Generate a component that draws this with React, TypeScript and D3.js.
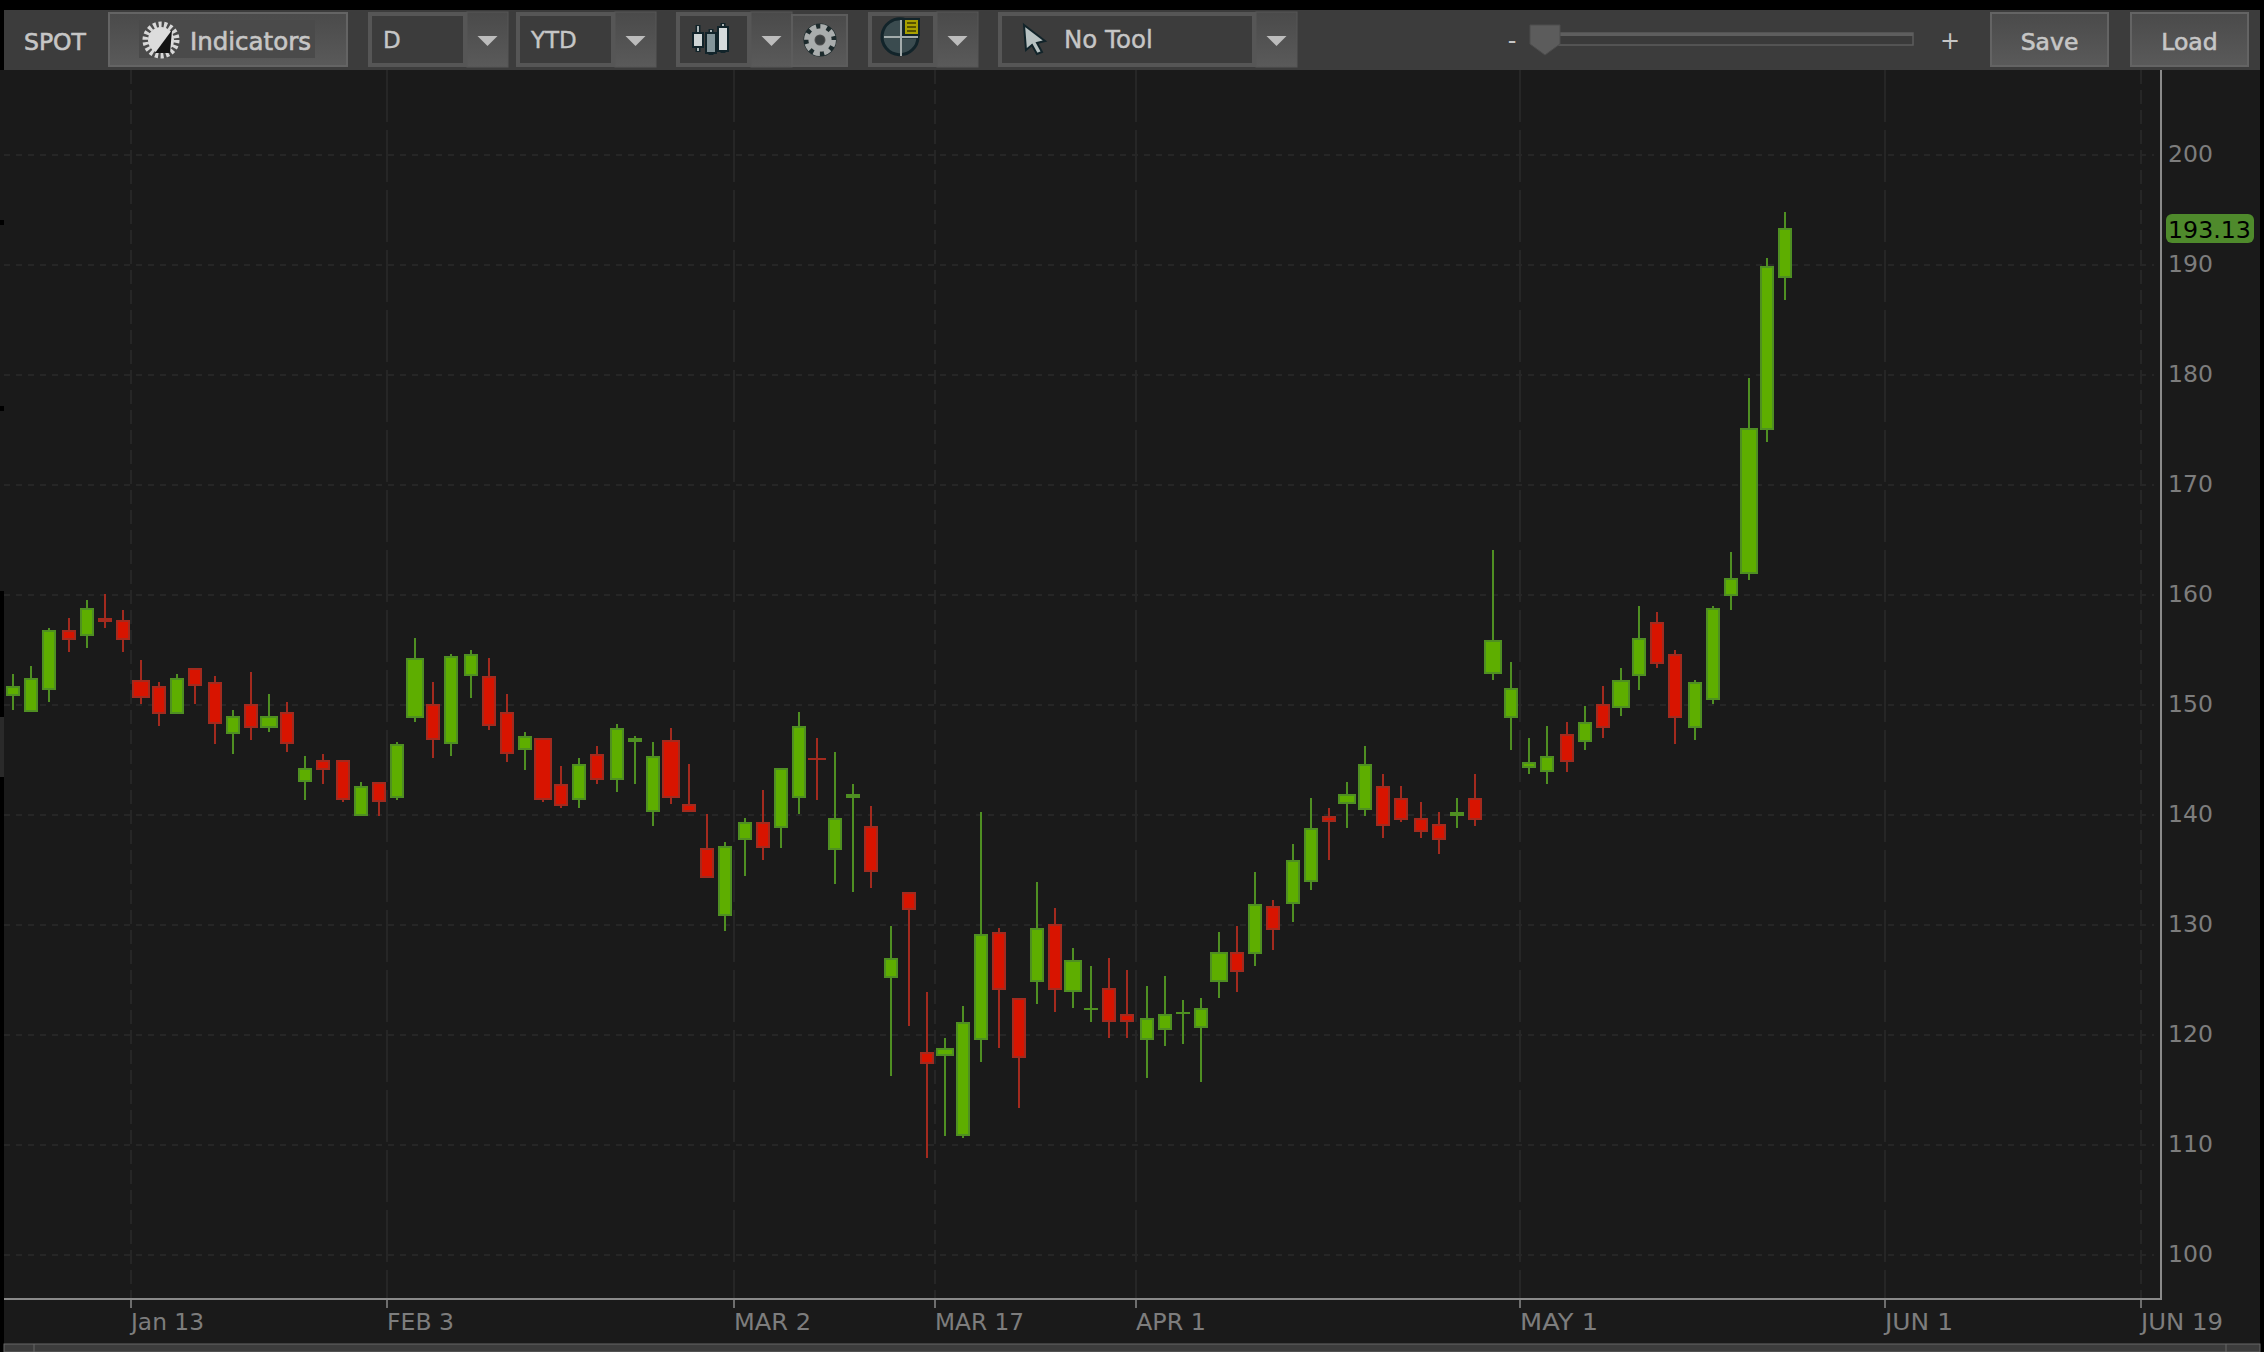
import React from "react"
import * as d3 from "d3"

// ---------- Data (SPOT daily, YTD) ----------
const highs = [
  152.82, 153.54, 157.0, 157.91, 159.54, 160.09, 158.64, 154.09, 152.09, 152.82,
  153.36, 152.63, 149.54, 153.0, 151.0, 150.27, 145.36, 145.54, 145.0, 143.0,
  143.0, 146.63, 156.09, 152.09, 154.63, 155.0, 154.27, 151.0, 147.55, 147.0,
  144.46, 145.18, 146.28, 148.27, 147.18, 146.64, 147.91, 144.64, 140.09, 137.55,
  139.73, 142.28, 144.28, 149.37, 147.0, 145.73, 142.82, 140.82, 129.91, 133.0,
  123.91, 119.73, 122.64, 140.27, 129.73, 123.36, 133.91, 131.54, 127.91, 126.27,
  127.0, 125.91, 124.45, 125.36, 123.18, 123.36, 129.36, 129.91, 134.82, 132.27,
  137.37, 141.55, 140.64, 143.0, 146.28, 143.73, 142.64, 141.19, 140.28, 141.55,
  143.73, 164.09, 153.91, 147.0, 148.09, 148.46, 149.91, 151.73, 153.37, 159.0,
  158.46, 155.0, 152.27, 159.0, 163.91, 179.73, 190.64, 194.82,
]
const lows = [
  149.55, 149.36, 150.27, 154.82, 155.18, 157.0, 154.82, 150.09, 148.09, 149.18,
  150.09, 146.45, 145.54, 146.82, 147.54, 145.73, 141.36, 142.82, 141.18, 139.91,
  139.91, 141.36, 148.45, 145.18, 145.36, 150.63, 147.73, 144.82, 144.09, 141.18,
  140.64, 140.64, 142.82, 142.09, 142.82, 139.0, 141.0, 140.27, 134.28, 129.45,
  134.46, 135.91, 137.0, 140.09, 141.36, 133.73, 133.0, 133.37, 116.27, 120.82,
  108.82, 110.82, 110.64, 117.55, 118.82, 113.36, 122.82, 122.09, 122.45, 121.18,
  119.73, 119.73, 116.09, 119.0, 119.18, 115.73, 123.36, 123.91, 126.27, 127.73,
  130.28, 133.19, 135.91, 138.82, 139.91, 137.91, 139.37, 137.91, 136.46, 138.82,
  139.0, 152.27, 145.91, 143.73, 142.82, 143.91, 145.91, 147.0, 149.0, 151.37,
  153.37, 146.46, 146.82, 150.09, 158.64, 161.37, 173.91, 186.82,
]
const opens = [
  150.82, 149.36, 151.36, 156.82, 156.27, 157.91, 157.73, 152.27, 151.72, 149.18,
  153.36, 152.09, 147.36, 150.09, 147.91, 149.36, 143.0, 145.0, 145.0, 139.91,
  143.0, 141.54, 148.82, 150.09, 146.45, 152.63, 152.63, 149.36, 145.91, 147.0,
  142.82, 141.36, 145.55, 143.18, 146.64, 140.27, 146.82, 141.0, 137.0, 130.82,
  137.73, 139.37, 138.82, 141.55, 145.18, 136.82, 141.55, 139.0, 125.18, 133.0,
  118.45, 118.09, 110.82, 119.55, 129.36, 123.36, 124.82, 130.09, 123.91, 122.27,
  124.27, 121.91, 119.55, 120.45, 121.91, 120.64, 124.82, 127.54, 127.36, 131.73,
  131.91, 133.91, 139.91, 141.0, 140.46, 142.64, 141.55, 139.73, 139.19, 139.91,
  141.55, 152.82, 148.82, 144.27, 143.91, 147.37, 146.64, 150.09, 149.73, 152.64,
  157.55, 154.64, 147.91, 150.46, 159.91, 161.91, 175.0, 188.82,
]
const closes = [
  151.72, 152.45, 156.82, 155.91, 158.82, 157.54, 155.91, 150.64, 149.18, 152.45,
  151.72, 148.27, 149.0, 147.91, 149.0, 146.45, 144.27, 144.09, 141.36, 142.63,
  141.18, 146.45, 154.27, 146.82, 154.45, 154.63, 148.09, 145.55, 147.18, 141.36,
  140.82, 144.64, 143.18, 147.91, 147.0, 145.37, 141.55, 140.27, 134.28, 137.18,
  139.37, 137.0, 144.28, 148.09, 145.0, 139.73, 141.91, 134.82, 127.0, 131.36,
  117.36, 118.82, 121.18, 129.18, 124.09, 117.91, 129.73, 124.09, 126.82, 122.45,
  121.18, 121.18, 121.54, 121.91, 122.09, 122.45, 127.54, 125.73, 131.91, 129.54,
  135.91, 138.82, 139.37, 141.91, 144.64, 139.0, 139.55, 138.46, 137.73, 140.28,
  139.55, 155.91, 151.55, 144.82, 145.37, 144.82, 148.46, 147.91, 152.27, 156.09,
  153.73, 148.82, 152.09, 158.82, 161.55, 175.18, 189.91, 193.37,
]

const priceTicks = [100, 110, 120, 130, 140, 150, 160, 170, 180, 190, 200]
const lastPrice = "193.13"

const dateLabels = ["Jan 13", "FEB 3", "MAR 2", "MAR 17", "APR 1", "MAY 1", "JUN 1", "JUN 19"]
const dateSessions = [7, 21, 40, 51, 62, 83, 103, 117] // trading day index of each label
const dateMonthStart = [false, true, true, false, true, true, true, false]
const sessionCount = 118

// ---------- Colours / layout ----------
const BG = "#1a1a1a"
const BAR = "#3c3c3c"
const UP_FILL = "#5eae00"
const UP_EDGE = "#4f8f22"
const DOWN_FILL = "#d81400"
const DOWN_EDGE = "#a32a1e"
const GRID = "#262626"
const AXIS = "#8a8a8a"
const LABEL = "#7d7d7d"
const TEXT = "#c6c6c6"
const FONT = "'DejaVu Sans', sans-serif"
// the platform font is wider on capitals, so the date labels get stretched to fit
const DATE_LABEL_WIDTHS = [73, 67, 77, 89, 70, 78, 68, 82]

// ---------- Toolbar bits ----------
const DropDown = ({ x, w, arrow, label, y = 12 }: { x: number; w: number; arrow: number; label?: string; y?: number }) => (
  <g>
    <rect x={x + 2} y={y + 2} width={w - 4} height={51} fill={BAR} stroke="#565656" strokeWidth={4} />
    <rect x={x + w} y={y} width={arrow} height={55} fill="url(#btn)" stroke="#575757" strokeWidth={1} />
    <path d={`M${x + w + arrow / 2 - 10},${y + 24} h20 l-10,10 z`} fill="#bcbcbc" />
    {label && (
      <text x={x + 15} y={48} fontSize={23} fill={TEXT} stroke={TEXT} strokeWidth={0.4} fontFamily={FONT}>
        {label}
      </text>
    )}
  </g>
)

const Button = ({ x, w, label }: { x: number; w: number; label: string }) => (
  <g>
    <rect x={x + 1} y={13} width={w - 2} height={53} fill="url(#btn)" stroke="#646464" strokeWidth={2} />
    <text x={x + w / 2} y={50} textAnchor="middle" fontSize={23.5} fill={TEXT} stroke={TEXT} strokeWidth={0.6} fontFamily={FONT}>
      {label}
    </text>
  </g>
)

const Gear = ({ cx, cy }: { cx: number; cy: number }) => (
  <g>
    <circle cx={cx} cy={cy} r={14} fill="none" stroke="#1c2a2c" strokeWidth={5} />
    <circle cx={cx} cy={cy} r={13} fill="none" stroke="#a9adad" strokeWidth={6} strokeDasharray="6.2 4" />
    <circle cx={cx} cy={cy} r={8.5} fill="none" stroke="#a9adad" strokeWidth={6} />
    <circle cx={cx} cy={cy} r={4.5} fill="#3a3f40" />
  </g>
)

const Toolbar = () => (
  <g>
    <rect x={4} y={10} width={2256} height={60} fill={BAR} />
    <text x={24} y={50} fontSize={23.5} fill={TEXT} stroke={TEXT} strokeWidth={0.6} fontFamily={FONT}>
      SPOT
    </text>

    <rect x={109} y={13} width={238} height={53} fill="url(#btn)" stroke="#646464" strokeWidth={2} />
    <rect x={139} y={20} width={176} height={38} fill="#4a4a4a" />
    <circle cx={161} cy={40} r={15.5} fill="none" stroke="#d8d8d8" strokeWidth={6} strokeDasharray="3 2.4" />
    <circle cx={161} cy={40} r={13} fill="#dcdcdc" />
    <path d="M155,53 L172,30 L170,53 Z" fill="#141414" />
    <text x={190} y={50} fontSize={24.5} fill={TEXT} stroke={TEXT} strokeWidth={0.6} fontFamily={FONT}>
      Indicators
    </text>

    <DropDown x={368} w={99} arrow={41} label="D" />
    <DropDown x={516} w={99} arrow={41} label="YTD" />

    {/* chart style */}
    <DropDown x={676} w={75} arrow={41} />
    <g stroke="#12242a" strokeWidth={2}>
      <path d="M698,25 V52 M711,29 V55 M723,23 V53" stroke="#12242a" strokeWidth={5} />
      <path d="M698,26 V51 M711,30 V54 M723,24 V52" stroke="#aab3b4" strokeWidth={2} />
      <rect x={693} y={33} width={10} height={14} fill="#cfd5d6" />
      <rect x={706} y={33} width={10} height={20} fill="#84959a" />
      <rect x={718} y={27} width={10} height={24} fill="#d6dbdc" />
    </g>
    <rect x={792} y={15} width={55} height={51} fill="url(#btn)" stroke="#5c5c5c" strokeWidth={2} />
    <Gear cx={820} cy={40} />

    {/* drawing set */}
    <DropDown x={868} w={69} arrow={41} />
    <path d="M903,19 A18,18 0 1,0 918,37 L903,37 Z" fill="#3a4b4f" stroke="#12242a" strokeWidth={3} />
    <path d="M884,37 H918 M901,20 V56" stroke="#a3acac" strokeWidth={2} fill="none" />
    <rect x={904} y={19} width={15} height={16} fill="#a8a000" stroke="#12242a" strokeWidth={2} />
    <path d="M907,23 h9 M907,27 h9 M907,31 h9" stroke="#3c3a00" strokeWidth={1.5} />

    {/* tool picker */}
    <DropDown x={998} w={258} arrow={41} />
    <path d="M1024,25 L1045,41 L1037,43 L1042,52 L1037,54 L1032,45 L1026,50 Z" fill="#b8c2c2" stroke="#12242a" strokeWidth={2} />
    <text x={1064} y={48} fontSize={24.5} fill={TEXT} stroke={TEXT} strokeWidth={0.4} fontFamily={FONT}>
      No Tool
    </text>

    {/* zoom slider */}
    <text x={1512} y={49} textAnchor="middle" fontSize={24} fill={TEXT} fontFamily={FONT}>
      -
    </text>
    <rect x={1556} y={33} width={357} height={12} fill="#3a3a3a" stroke="#5c5c5c" strokeWidth={1.5} />
    <rect x={1556} y={33} width={357} height={3} fill="#5e5e5e" />
    <path d="M1530,25 H1560 V44 L1545,55 L1530,44 Z" fill="#5c5c5c" stroke="#4c4c4c" strokeWidth={1} />
    <text x={1950} y={49} textAnchor="middle" fontSize={24} fill={TEXT} fontFamily={FONT}>
      +
    </text>

    <Button x={1990} w={119} label="Save" />
    <Button x={2130} w={119} label="Load" />
  </g>
)

// ---------- Chart ----------
export default function App() {
  const x = d3
    .scaleBand<number>()
    .domain(d3.range(sessionCount))
    .range([3.2, 3.2 + sessionCount * 18.27])
  const y = d3.scaleLinear().domain([100, 200]).range([1255, 155])

  // bodies and wicks sit on the odd pixel columns like the platform does it
  const center = (i: number) => 2 * Math.round(((x(i) ?? 0) + 10.1 - 1) / 2) + 1
  const py = (v: number) => Math.round(y(v))
  // pixel snapping makes every 7th or 8th body a bit wider
  const halfWidth = (i: number) => (Math.floor((i + 1) / 7.365) > Math.floor(i / 7.365) ? 9 : 7)

  return (
    <svg
      width={2264}
      height={1352}
      viewBox="0 0 2264 1352"
      style={{ position: "absolute", top: 0, left: 0, display: "block" }}
    >
      <defs>
        <linearGradient id="btn" x1="0" y1="0" x2="0" y2="1">
          <stop offset="0" stopColor="#4a4a4a" />
          <stop offset="1" stopColor="#5a5a5a" />
        </linearGradient>
      </defs>

      <rect width={2264} height={1352} fill="#000" />
      <rect x={4} y={10} width={2256} height={1342} fill={BG} />

      {/* left edge markers */}
      <rect x={0} y={70} width={4} height={521} fill={BG} />
      <rect x={0} y={220} width={4} height={5} fill="#000" />
      <rect x={0} y={406} width={4} height={5} fill="#000" />
      <rect x={0} y={717} width={4} height={60} fill="#2a2a2a" />

      {/* price grid */}
      {priceTicks.map((t) => (
        <line
          key={t}
          x1={4}
          x2={2154}
          y1={y(t)}
          y2={y(t)}
          stroke={GRID}
          strokeWidth={2}
          strokeDasharray="6 6"
        />
      ))}

      {/* date grid */}
      {dateSessions.map((s, i) => (
        <line
          key={s}
          x1={Math.round(x(s) ?? 0)}
          x2={Math.round(x(s) ?? 0)}
          y1={70}
          y2={1298}
          stroke={GRID}
          strokeWidth={2}
          strokeDasharray={dateMonthStart[i] ? "52 8" : "14 6"}
        />
      ))}

      {/* candles */}
      <g shapeRendering="crispEdges">
        {highs.map((h, i) => {
          const up = closes[i] >= opens[i]
          const edge = up ? UP_EDGE : DOWN_EDGE
          const fill = up ? UP_FILL : DOWN_FILL
          const c = center(i)
          const hw = halfWidth(i)
          const top = py(Math.max(opens[i], closes[i]))
          const bottom = py(Math.min(opens[i], closes[i]))
          const thin = bottom - top <= 4
          return (
            <g key={i}>
              <line x1={c} x2={c} y1={py(h)} y2={py(lows[i])} stroke={edge} strokeWidth={2} />
              {thin ? (
                <rect x={c - hw} y={top} width={hw * 2} height={Math.max(bottom - top, 2)} fill={edge} />
              ) : (
                <rect
                  x={c - hw + 1}
                  y={top + 1}
                  width={hw * 2 - 2}
                  height={bottom - top - 2}
                  fill={fill}
                  stroke={edge}
                  strokeWidth={2}
                />
              )}
            </g>
          )
        })}
      </g>

      {/* axes */}
      <line x1={4} x2={2162} y1={1299} y2={1299} stroke={AXIS} strokeWidth={2} />
      <line x1={2161} x2={2161} y1={70} y2={1300} stroke={AXIS} strokeWidth={2} />

      {priceTicks.map((t) => (
        <text key={t} x={2168} y={y(t) + 7} fontSize={23.5} fill={LABEL} fontFamily={FONT}>
          {t}
        </text>
      ))}

      {dateSessions.map((s, i) => (
        <g key={s}>
          <line
            x1={Math.round(x(s) ?? 0)}
            x2={Math.round(x(s) ?? 0)}
            y1={1300}
            y2={1308}
            stroke={AXIS}
            strokeWidth={1.5}
          />
          <text
            x={Math.round(x(s) ?? 0)}
            y={1330}
            fontSize={23}
            fill={LABEL}
            fontFamily={FONT}
            textLength={DATE_LABEL_WIDTHS[i]}
            lengthAdjust="spacingAndGlyphs"
          >
            {dateLabels[i]}
          </text>
        </g>
      ))}

      {/* last price tag */}
      <rect x={2166} y={214} width={88} height={29} rx={6} fill="#4f8a2c" />
      <text x={2168} y={238} fontSize={23.7} fill="#000" fontFamily={FONT}>
        {lastPrice}
      </text>

      {/* scrollbar along the bottom */}
      <rect x={4} y={1344} width={2256} height={8} fill={BAR} stroke="#666" strokeWidth={1} />
      <line x1={34} x2={34} y1={1344} y2={1352} stroke="#666" />
      <line x1={2226} x2={2226} y1={1344} y2={1352} stroke="#666" />

      <Toolbar />
    </svg>
  )
}
